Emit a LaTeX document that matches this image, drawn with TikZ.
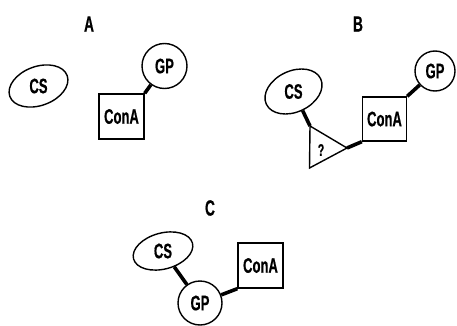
\documentclass[tikz,border=0pt]{standalone}
\usepackage{fontspec}
\usepackage{graphicx}
\setmainfont[FakeStretch=0.62,FakeBold=0.6]{Liberation Sans Bold}
\usetikzlibrary{shapes.geometric}
\tikzset{
  shapeline/.style={draw=black, line width=1.4pt},
  csnode/.style={shapeline, ellipse, inner sep=0pt, font=\fontsize{21}{21}\selectfont},
  gpnode/.style={shapeline, circle, inner sep=0pt, font=\fontsize{21}{21}\selectfont},
  connode/.style={shapeline, rectangle, inner sep=0pt, minimum size=45pt, font=\fontsize{21}{21}\selectfont},
  panellabel/.style={font=\fontsize{22}{22}\selectfont},
  conn/.style={draw=black, line width=3.6pt},
}
\begin{document}
\begin{tikzpicture}[x=1pt, y=-1pt]
\useasboundingbox (0,0) rectangle (457,326);
% Panel A
\node[panellabel] (labA) at (89,24) {A};
\node[csnode, rotate=20, minimum width=61pt, minimum height=39pt] (csA) at (38.5,86) {\rotatebox{-20}{CS}};
\node[gpnode, minimum size=45pt] (gpA) at (164.5,66) {GP};
\node[connode] (conA) at (121.5,116.5) {ConA};
\draw[conn] (conA.north east) -- (gpA);
% Panel B
\node[panellabel] (labB) at (358,24) {B};
\node[csnode, rotate=25, minimum width=60pt, minimum height=41pt] (csB) at (293.5,91.5) {\rotatebox{-25}{CS}};
\node[gpnode, minimum size=40pt] (gpB) at (435,71) {GP};
\node[connode, minimum size=44pt] (conB) at (384.5,119) {ConA};
\coordinate (t1) at (310,126);
\coordinate (t2) at (309.5,168);
\coordinate (t3) at (347,148);
\draw[shapeline] (t1) -- (t2) -- (t3) -- cycle;
\node[font=\fontsize{17}{17}\selectfont] (q) at (321,150) {?};
\draw[conn] (csB) -- (t1);
\draw[conn] (conB.south west) -- (t3);
\draw[conn] (conB.north east) -- (gpB);
% Panel C
\node[panellabel] (labC) at (210,208) {C};
\node[csnode, rotate=15, minimum width=61pt, minimum height=36pt] (csC) at (163,251) {\rotatebox{-15}{CS}};
\node[gpnode, minimum size=44pt] (gpC) at (200,303) {GP};
\node[connode] (conC) at (260.5,265.5) {ConA};
\draw[conn] (csC) -- (gpC);
\draw[conn] (gpC) -- (conC.south west);
\end{tikzpicture}
\end{document}
